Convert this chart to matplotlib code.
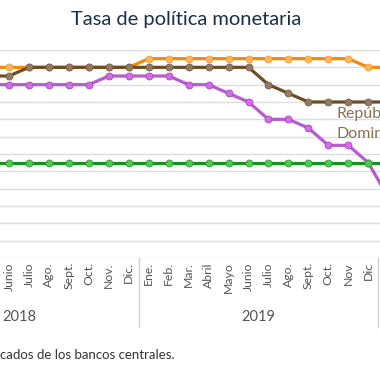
import matplotlib.pyplot as plt
from matplotlib.transforms import blended_transform_factory

plt.rcParams['font.family'] = ['Lato', 'DejaVu Sans']

# Month tick labels, Ene 2018 .. Dic 2019
month_labels = ["Ene.", "Feb.", "Mar.", "Abril", "Mayo", "Junio", "Julio", "Ago.", "Sept.", "Oct.", "Nov.", "Dic.",
                "Ene.", "Feb.", "Mar.", "Abril", "Mayo", "Junio", "Julio", "Ago.", "Sept.", "Oct.", "Nov", "Dic"]
years = ["2018", "2019"]

# Series from Mayo 2018 (index 4) to Ene 2020 (index 24)
start = 4
orange = [5.50, 5.50, 5.50, 5.50, 5.50, 5.50, 5.50, 5.50,
          5.75, 5.75, 5.75, 5.75, 5.75, 5.75, 5.75, 5.75, 5.75, 5.75, 5.75, 5.50, 5.50]
brown = [5.25, 5.25, 5.50, 5.50, 5.50, 5.50, 5.50, 5.50,
         5.50, 5.50, 5.50, 5.50, 5.50, 5.50, 5.00, 4.75, 4.50, 4.50, 4.50, 4.50, 4.50]
purple = [5.00, 5.00, 5.00, 5.00, 5.00, 5.00, 5.25, 5.25,
          5.25, 5.25, 5.00, 5.00, 4.75, 4.50, 4.00, 4.00, 3.75, 3.25, 3.25, 2.75, 1.75]
green = [2.75] * 21

x = list(range(start, start + len(orange)))

fig = plt.figure(figsize=(3.8, 3.8), dpi=100)
# the chart is cropped on both sides, so the axes run past the figure edges
ax = fig.add_axes([-100.8 / 380, 122 / 380, 499 / 380, 208 / 380])
ax.set_xlim(-0.5, 24.5)
ax.set_ylim(0, 6)

for v in [i * 0.5 for i in range(13)]:
    ax.axhline(v, color="#dedede", lw=1.0, zorder=0)

series = [
    (orange, "#f28a0a", "#fbb55a", "#f0a040"),
    (brown, "#6b4c25", "#957a63", "#7b6048"),
    (purple, "#b65ccc", "#d46ce8", "#a34bbb"),
    (green, "#13951b", "#55c45a", "#2fa336"),
]
for z, (vals, lc, mfc, mec) in enumerate(series):
    ax.plot(x, vals, color=lc, lw=2.3, marker="o", ms=5, mfc=mfc, mec=mec, mew=0.6,
            zorder=2 + z, clip_on=True)

for s in ax.spines.values():
    s.set_visible(False)
ax.set_yticks([])
ax.set_xticks(range(len(month_labels)))
ax.set_xticklabels(month_labels, rotation=90, fontsize=8.8, color="#555555", va="top")
ax.tick_params(axis="x", length=0, pad=3)

trans = blended_transform_factory(ax.transData, ax.transAxes)
for sep in [11.5, 23.5]:
    ax.plot([sep, sep], [0, -0.332], transform=trans, color="#d0d0d0", lw=1.0, clip_on=False)
for i, yr in enumerate(years):
    ax.text(5.5 + 12 * i, -0.285, yr, transform=trans, ha="center", va="center",
            fontsize=10.5, color="#555555")

ax.text(336, 380 - 114, "República", transform=None, fontsize=11.5, color="#8a6f55",
        va="center", ha="left")
ax.text(336, 380 - 134, "Dominicana", transform=None, fontsize=11.5, color="#8a6f55",
        va="center", ha="left")

fig.text(186 / 380, 1 - 20 / 380, "Tasa de política monetaria", ha="center", va="center",
         fontsize=14.5, color="#1c2e4a")
fig.text(0, 1 - 355 / 380, "cados de los bancos centrales.", ha="left", va="center",
         fontsize=9.5, color="#333333")

fig.savefig("out.png", dpi=100)
